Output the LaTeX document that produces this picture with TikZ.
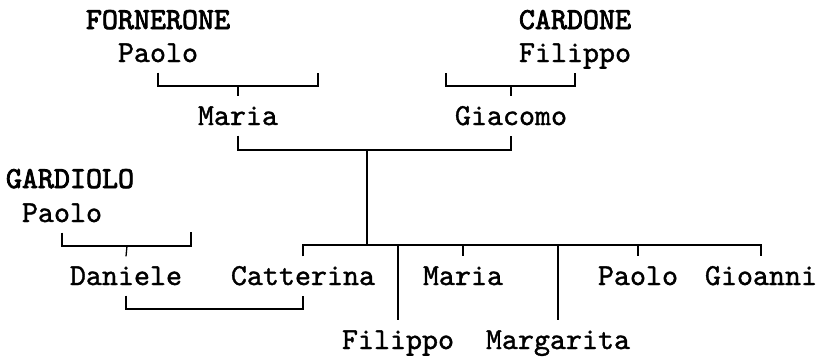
\documentclass[tikz,border=0pt]{standalone}
\usepackage{fontspec}
\usepackage{tikz}
\newfontfamily\namefont[FakeBold=1.2]{lmmono10-regular.otf}
\newfontfamily\surfont[FakeBold=2.6]{lmmono10-regular.otf}

\begin{document}
\begin{tikzpicture}[x=1pt,y=-1pt,line width=1.3pt,
   every node/.style={font=\namefont\fontsize{30.5}{32}\selectfont,anchor=base,
     inner xsep=0pt,inner ysep=10pt,text height=18pt,text depth=0pt},
   surname/.style={font=\surfont\fontsize{30.5}{32}\selectfont}]
 \useasboundingbox (0,0) rectangle (818,356);
 % grandparents
 \node[surname] (fsur) at (158,29) {FORNERONE};
 \node (fpaolo) at (158,62) {Paolo};
 \node[surname] (csur) at (575,29) {CARDONE};
 \node (cfilippo) at (575,62) {Filippo};
 \node[surname] (gsur) at (70,188) {GARDIOLO};
 \node (gpaolo) at (62,222) {Paolo};
 % parents
 \node (maria) at (238,125) {Maria};
 \node (giacomo) at (511,125) {Giacomo};
 % children
 \node (daniele) at (126,285) {Daniele};
 \node (catterina) at (303,285) {Catterina};
 \node (kmaria) at (463,285) {Maria};
 \node (kpaolo) at (638,285) {Paolo};
 \node (gioanni) at (761,285) {Gioanni};
 \node (filippo) at (398,349) {Filippo};
 \node (margarita) at (558,349) {Margarita};
 % junctions and unnamed spouses
 \coordinate (fw) at (318,73);
 \coordinate (cw) at (446,73);
 \coordinate (gw) at (191,232);
 \coordinate (fj) at (238,86);
 \coordinate (cj) at (511,86);
 \coordinate (gj) at (127,246);
 \coordinate (mj) at (367,150);
 \coordinate (kj) at (367,245);
 \coordinate (dc) at (215,309);
 \draw (fpaolo.south) |- (fj) -| (fw);
 \draw (fj) -- (maria.north);
 \draw (cw) |- (cj) -| (cfilippo.south);
 \draw (cj) -- (giacomo.north);
 \draw (gpaolo.south) |- (gj) -| (gw);
 \draw (gj) -- (daniele.north);
 \draw (maria.south) |- (mj) -| (giacomo.south);
 \draw (mj) -- (kj);
 \draw (catterina.north) |- (kj) -| (gioanni.north);
 \foreach \k in {filippo,kmaria,margarita,kpaolo}
   \draw (kj -| \k.north) -- (\k.north);
 \draw (daniele.south) |- (dc) -| (catterina.south);
\end{tikzpicture}
\end{document}
